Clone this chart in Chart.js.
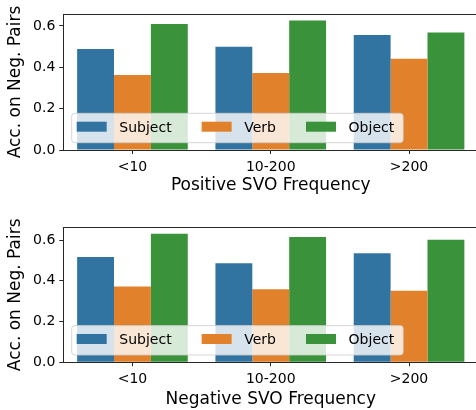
<!DOCTYPE html>
<html><head><meta charset="utf-8">
<script src="https://cdn.jsdelivr.net/npm/chart.js@4"></script>
<style>
html,body{margin:0;padding:0;background:#fff;overflow:hidden;width:476px;height:410px;}
.wrap{position:absolute;left:0;width:479px;height:205px;}
canvas{display:block;}
</style></head><body>
<div class="wrap" style="top:0"><canvas id="c1" width="479" height="205"></canvas></div>
<div class="wrap" style="top:205px"><canvas id="c2" width="479" height="205"></canvas></div>
<script>
const categories = ['<10', '10-200', '>200'];
const seriesNames = ['Subject', 'Verb', 'Object'];
const posSubject = [0.489, 0.500, 0.556];
const posVerb    = [0.363, 0.372, 0.442];
const posObject  = [0.610, 0.627, 0.568];
const negSubject = [0.517, 0.487, 0.535];
const negVerb    = [0.372, 0.359, 0.352];
const negObject  = [0.631, 0.615, 0.602];
const yTicks = [0, 0.2, 0.4, 0.6];
const yMaxPos = 0.658;
const yMaxNeg = 0.663;
const colors = ['#3274a1', '#e1812c', '#3a923a'];

const FONT = '"DejaVu Sans", sans-serif';

const framePlugin = {
  id: 'frame',
  afterDraw(chart) {
    const ca = chart.chartArea, ctx = chart.ctx;
    ctx.save();
    ctx.strokeStyle = '#262626';
    ctx.lineWidth = 1;
    ctx.strokeRect(Math.round(ca.left) + 0.5, Math.round(ca.top) + 0.5,
                   Math.round(ca.right - ca.left), Math.round(ca.bottom - ca.top));
    ctx.restore();
  }
};

const legendPlugin = {
  id: 'mplLegend',
  afterDatasetsDraw(chart) {
    const ca = chart.chartArea, ctx = chart.ctx;
    ctx.save();
    ctx.font = '14px ' + FONT;
    const handleW = 30, handleH = 10, pad = 5, gap = 12.6, colSp = 30, rightPad = 9;
    const items = chart.data.datasets.map(d => ({label: d.label, color: d.backgroundColor, w: ctx.measureText(d.label).width}));
    let total = pad;
    items.forEach((it, i) => { total += handleW + gap + it.w + (i < items.length - 1 ? colSp : 0); });
    total += rightPad;
    const boxH = 29.4;
    const boxL = ca.left + 8.4, boxB = ca.bottom - 7.3, boxT = boxB - boxH;
    const r = 3;
    ctx.beginPath();
    ctx.moveTo(boxL + r, boxT);
    ctx.lineTo(boxL + total - r, boxT);
    ctx.arcTo(boxL + total, boxT, boxL + total, boxT + r, r);
    ctx.lineTo(boxL + total, boxB - r);
    ctx.arcTo(boxL + total, boxB, boxL + total - r, boxB, r);
    ctx.lineTo(boxL + r, boxB);
    ctx.arcTo(boxL, boxB, boxL, boxB - r, r);
    ctx.lineTo(boxL, boxT + r);
    ctx.arcTo(boxL, boxT, boxL + r, boxT, r);
    ctx.closePath();
    ctx.fillStyle = 'rgba(255,255,255,0.8)';
    ctx.fill();
    ctx.strokeStyle = 'rgba(204,204,204,0.8)';
    ctx.lineWidth = 1;
    ctx.stroke();
    let x = boxL + pad;
    const midY = boxT + boxH / 2 - 1.3;
    items.forEach(it => {
      ctx.fillStyle = it.color;
      ctx.fillRect(x, midY - handleH / 2, handleW, handleH);
      x += handleW + gap;
      ctx.fillStyle = '#000';
      ctx.textBaseline = 'alphabetic';
      ctx.textAlign = 'left';
      ctx.fillText(it.label, x, boxT + 18.4);
      x += it.w + colSp;
    });
    ctx.restore();
  }
};

function makeChart(id, series, xTitle, yMax, plotTop, plotBottom, titleMid) {
  const H = 205;
  const tickFont = {family: FONT, size: 14};
  const titleFont = {family: FONT, size: 17};
  const titleLH = 17 * 1.2;
  return new Chart(document.getElementById(id), {
    type: 'bar',
    data: {
      labels: categories,
      datasets: series.map((d, i) => ({
        label: seriesNames[i], data: d, backgroundColor: colors[i],
        borderWidth: 0, categoryPercentage: 0.8, barPercentage: 1.0
      }))
    },
    options: {
      responsive: false, animation: false, devicePixelRatio: 1,
      layout: {padding: {top: plotTop, left: 0, right: 0.8, bottom: 0}},
      plugins: {legend: {display: false}, tooltip: {enabled: false}},
      scales: {
        x: {
          grid: {display: true, drawOnChartArea: false, offset: false, tickLength: 4, color: '#262626', tickColor: '#262626', lineWidth: 1},
          border: {display: false},
          ticks: {font: tickFont, color: '#000', padding: 4.5, maxRotation: 0},
          title: {display: true, text: xTitle, font: titleFont, color: '#000',
                  padding: {top: 0, bottom: (H - titleMid) - titleLH / 2}},
          afterFit: s => { s.height = H - plotBottom; }
        },
        y: {
          min: 0, max: yMax,
          grid: {display: true, drawOnChartArea: false, tickLength: 4, color: '#262626', tickColor: '#262626', lineWidth: 1},
          border: {display: false},
          ticks: {font: tickFont, color: '#000', padding: 4, callback: v => Number(v).toFixed(1)},
          afterBuildTicks: s => { s.ticks = yTicks.map(v => ({value: v})); },
          title: {display: true, text: 'Acc. on Neg. Pairs', font: titleFont, color: '#000', padding: {top: 5.3, bottom: 0}},
          afterFit: s => { s.width = 63.3; }
        }
      }
    },
    plugins: [framePlugin, legendPlugin]
  });
}

makeChart('c1', [posSubject, posVerb, posObject], 'Positive SVO Frequency', yMaxPos, 14, 150, 186);
makeChart('c2', [negSubject, negVerb, negObject], 'Negative SVO Frequency', yMaxNeg, 22.3, 157.3, 194.7);
</script>
</body></html>
